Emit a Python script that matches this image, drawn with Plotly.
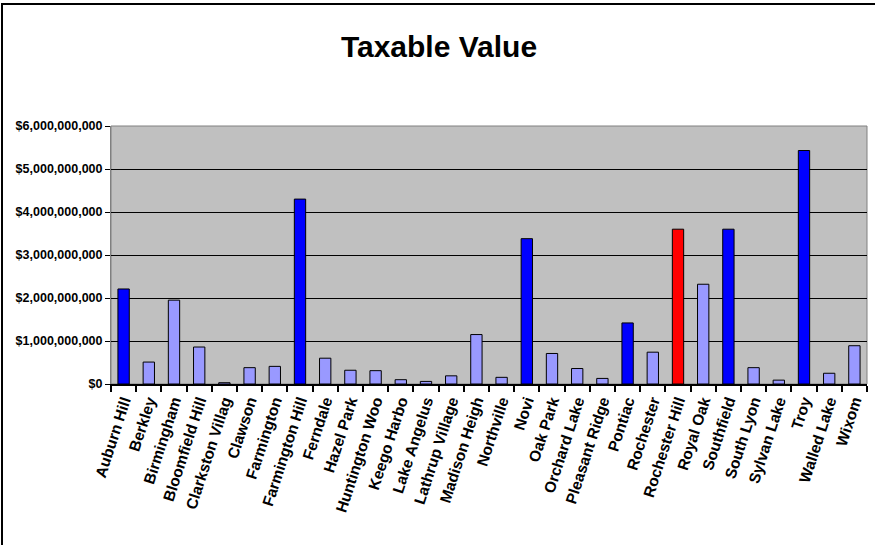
import plotly.graph_objects as go

cities = ["Auburn Hill", "Berkley", "Birmingham", "Bloomfield Hill", "Clarkston Villag",
          "Clawson", "Farmington", "Farmington Hill", "Ferndale", "Hazel Park",
          "Huntington Woo", "Keego Harbo", "Lake Angelus", "Lathrup Village", "Madison Heigh",
          "Northville", "Novi", "Oak Park", "Orchard Lake", "Pleasant Ridge",
          "Pontiac", "Rochester", "Rochester Hill", "Royal Oak", "Southfield",
          "South Lyon", "Sylvan Lake", "Troy", "Walled Lake", "Wixom"]
values = [2.21e9, 0.51e9, 1.95e9, 0.86e9, 0.03e9,
          0.38e9, 0.41e9, 4.30e9, 0.60e9, 0.32e9,
          0.31e9, 0.10e9, 0.06e9, 0.19e9, 1.15e9,
          0.155e9, 3.38e9, 0.71e9, 0.36e9, 0.13e9,
          1.42e9, 0.74e9, 3.60e9, 2.32e9, 3.60e9,
          0.38e9, 0.09e9, 5.43e9, 0.25e9, 0.89e9]
groups = ["big", "small", "small", "small", "small",
          "small", "small", "big", "small", "small",
          "small", "small", "small", "small", "small",
          "small", "big", "small", "small", "small",
          "big", "small", "focus", "small", "big",
          "small", "small", "big", "small", "small"]
group_colors = {"big": "#0000FF", "small": "#9999FF", "focus": "#FF0000"}
y_ticks = [0, 1e9, 2e9, 3e9, 4e9, 5e9, 6e9]
y_tick_text = ["$0", "$1,000,000,000", "$2,000,000,000", "$3,000,000,000",
               "$4,000,000,000", "$5,000,000,000", "$6,000,000,000"]

fig = go.Figure(go.Bar(
    x=cities, y=values,
    marker=dict(color=[group_colors[g] for g in groups],
                line=dict(color="#000000", width=1)),
))

fig.update_layout(
    width=875, height=545,
    margin=dict(l=111, r=8, t=126, b=161, autoexpand=False),
    paper_bgcolor="#FFFFFF", plot_bgcolor="#C0C0C0",
    bargap=0.55, showlegend=False,
    title=dict(text="<b>Taxable Value</b>", x=(439 - 111) / 756, xref="paper", xanchor="center",
               y=1 - 46 / 545, yref="container", yanchor="middle",
               font=dict(family="Liberation Sans", size=30, color="#000000")),
    font=dict(family="Liberation Sans", color="#000000"),
)

fig.update_xaxes(
    type="category", tickangle=-72, tickson="boundaries", automargin=False,
    ticks="outside", ticklen=6, tickwidth=2, tickcolor="#000000",
    showline=True, linecolor="#000000", linewidth=2,
    tickfont=dict(family="Liberation Sans", size=15.5, color="#000000", weight="bold"),
    showgrid=False,
)
fig.update_yaxes(
    range=[0, 6e9], tickvals=y_ticks, ticktext=y_tick_text, automargin=False,
    ticks="outside", ticklen=5, tickcolor="#000000",
    showline=True, linecolor="#808080", linewidth=1,
    showgrid=True, gridcolor="#000000", gridwidth=1,
    tickfont=dict(family="Liberation Sans", size=12.5, color="#000000", weight="bold"),
    zeroline=False,
)

# plot-area border (top/right) and outer chart border
fig.add_shape(type="rect", xref="paper", yref="paper", x0=0, x1=1, y0=0, y1=1,
              line=dict(color="#808080", width=1), layer="below")
fig.add_shape(type="rect", xref="paper", yref="paper",
              x0=(2 - 111) / 756, x1=(900 - 111) / 756,
              y0=(384 - 560) / 258, y1=(384 - 4) / 258,
              line=dict(color="#000000", width=2))

fig.write_html("out.html", config={"displayModeBar": False},
               post_script="document.body.style.margin='0';")
